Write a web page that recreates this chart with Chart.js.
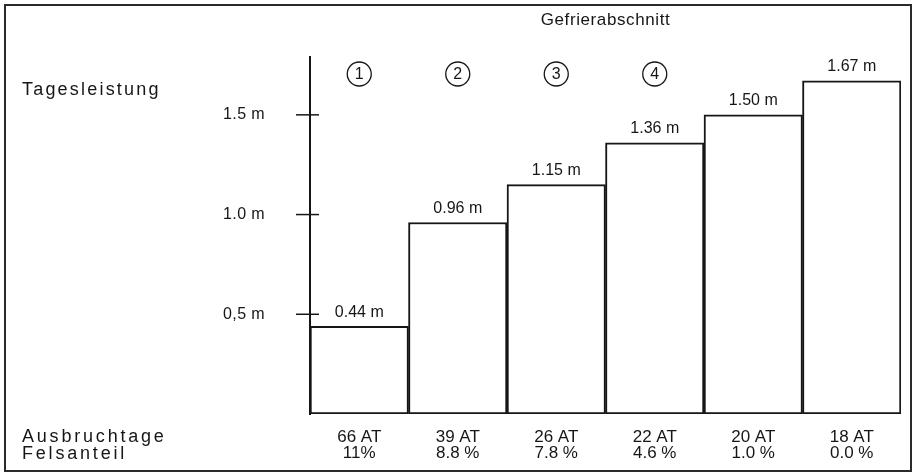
<!DOCTYPE html>
<html>
<head>
<meta charset="utf-8">
<script src="https://cdn.jsdelivr.net/npm/chart.js@4.4.0/dist/chart.umd.min.js"></script>
<style>
  html, body { margin: 0; padding: 0; background: #fff; }
  #wrap { width: 915px; height: 475px; position: relative; }
</style>
</head>
<body>
<div id="wrap"><canvas id="myChart" width="915" height="475"></canvas></div>
<script>
const sections = ["1", "2", "3", "4", "", ""];
const values = [0.44, 0.96, 1.15, 1.36, 1.50, 1.67];
const valueLabels = ["0.44 m", "0.96 m", "1.15 m", "1.36 m", "1.50 m", "1.67 m"];
const days = ["66 AT", "39 AT", "26 AT", "22 AT", "20 AT", "18 AT"];
const rock = ["11%", "8.8 %", "7.8 %", "4.6 %", "1.0 %", "0.0 %"];
const tickValues = [0.5, 1.0, 1.5];
const tickLabels = ["0,5 m", "1.0 m", "1.5 m"];

const ink = "#161616";
const font = "'Liberation Sans', Arial, sans-serif";

// a little letter spacing for the axis labels drawn by Chart.js
const spacing = {
    id: "spacing",
    beforeDraw(chart) { chart.ctx.letterSpacing = "0.4px"; },
    afterDatasetsDraw(chart) { chart.ctx.letterSpacing = "0px"; }
};

// frame, texts, circled numbers and tick marks
const decor = {
    id: "decor",
    afterDraw(chart) {
        const c = chart.ctx;
        const xs = chart.scales.x;
        const ys = chart.scales.y;
        const area = chart.chartArea;
        c.save();
        c.strokeStyle = "#2a2a2a";
        c.lineWidth = 2;
        c.strokeRect(5, 5, 906, 466);

        c.fillStyle = ink;
        c.textBaseline = "middle";

        // title
        c.font = "17px " + font;
        c.letterSpacing = "0.6px";
        c.textAlign = "center";
        c.fillText("Gefrierabschnitt", (area.left + area.right) / 2, 20);

        // left labels
        c.textAlign = "left";
        c.font = "18px " + font;
        c.letterSpacing = "2.2px";
        c.fillText("Tagesleistung", 22, 90);
        c.letterSpacing = "2.8px";
        c.fillText("Ausbruchtage", 22, 437);
        c.fillText("Felsanteil", 22, 454);

        // tick marks crossing the axis
        c.strokeStyle = ink;
        c.lineWidth = 1.5;
        ys.ticks.forEach(t => {
            const y = ys.getPixelForValue(t.value);
            c.beginPath();
            c.moveTo(area.left - 14, y);
            c.lineTo(area.left + 9, y);
            c.stroke();
        });

        c.textAlign = "center";
        c.letterSpacing = "0px";
        values.forEach((v, i) => {
            const x = xs.getPixelForValue(i);
            const top = ys.getPixelForValue(v);
            c.font = "16px " + font;
            c.fillText(valueLabels[i], x, top - 14);

            c.font = "17px " + font;
            c.fillText(days[i], x, 437);
            c.fillText(rock[i], x, 453);

            if (sections[i]) {
                c.lineWidth = 1.3;
                c.beginPath();
                c.arc(x, 74, 12, 0, Math.PI * 2);
                c.stroke();
                c.font = "16px " + font;
                c.fillText(sections[i], x, 75);
            }
        });
        c.restore();
    }
};

new Chart(document.getElementById("myChart"), {
    type: "bar",
    data: {
        labels: days,
        datasets: [{
            data: values,
            backgroundColor: "#fff",
            borderColor: ink,
            borderWidth: 2,
            borderSkipped: false,
            categoryPercentage: 1,
            barPercentage: 1
        }]
    },
    options: {
        responsive: false,
        animation: false,
        layout: { padding: { left: 210, right: 14, top: 57, bottom: 61 } },
        plugins: { legend: { display: false }, tooltip: { enabled: false } },
        scales: {
            x: { display: false },
            y: {
                min: 0,
                max: 1.79,
                afterFit: s => { s.width = 100; },
                afterBuildTicks: s => { s.ticks = tickValues.map(v => ({ value: v })); },
                grid: { display: false, drawTicks: false },
                border: { display: true, color: ink, width: 2 },
                ticks: {
                    padding: 45,
                    color: ink,
                    font: { family: font, size: 16 },
                    callback: (v) => tickLabels[tickValues.indexOf(v)]
                }
            }
        }
    },
    plugins: [spacing, decor]
});
</script>
</body>
</html>
